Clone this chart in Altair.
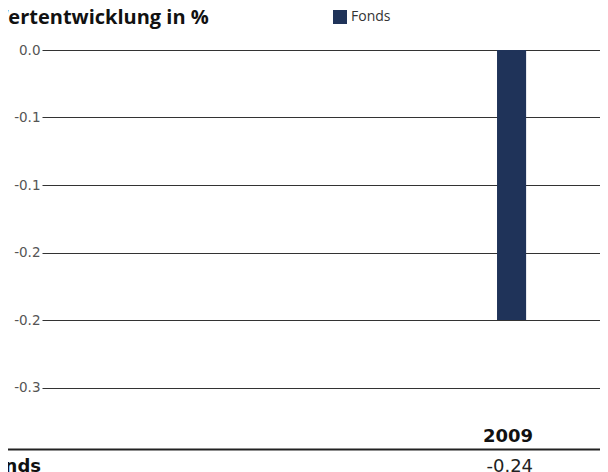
import altair as alt
import pandas as pd

# ---- data ----
years = ["2009"]
fonds = [-0.24]
series_name = "Fonds"
y_ticks = [0.0, -0.06, -0.12, -0.18, -0.24, -0.30]
title_text = "Wertentwicklung in %"

df = pd.DataFrame({"Jahr": years, "Wert": fonds, "Serie": [series_name] * len(years)})

FONT = "Open Sans"
TFONT = "DejaVu Sans"
W, H = 558, 337.5

x_enc = alt.X(
    "Jahr:N",
    scale=alt.Scale(domain=years, paddingInner=0.89, paddingOuter=1, align=0.8603),
    axis=alt.Axis(
        title=None, labelAngle=0, domain=False, ticks=False, tickSize=0, grid=False,
        labelPadding=39.5, labelFontWeight="bold", labelFontSize=18, labelColor="#111",
        labelFont=TFONT, labelAlign="right", labelOffset=21.5,
    ),
)

bars = alt.Chart(df).mark_bar().encode(
    x=x_enc,
    y=alt.Y(
        "Wert:Q",
        scale=alt.Scale(domain=[-0.3, 0], nice=False),
        axis=alt.Axis(
            values=y_ticks, format=".1f", title=None, grid=True, gridColor="#333",
            gridWidth=1, domain=False, ticks=False, labelPadding=2, labelFontSize=13.5,
            labelColor="#555", labelFont=TFONT,
            labelExpr="replace(datum.label, '\u2212', '-')",
        ),
    ),
    color=alt.Color(
        "Serie:N",
        scale=alt.Scale(domain=[series_name], range=["#1f3359"]),
        legend=alt.Legend(
            title=None, orient="none", legendX=291, legendY=-40, symbolType="square",
            symbolSize=196, symbolStrokeWidth=0, labelFont=FONT, labelFontSize=14,
            labelColor="#333", labelOffset=4, padding=0,
        ),
    ),
)

rule = alt.Chart(df).mark_rule(color="#222", strokeWidth=2.2).encode(
    x=alt.value(-42), x2=alt.value(W), y=alt.value(399.5)
)

row_label = alt.Chart(df).mark_text(
    font=TFONT, fontSize=18, fontWeight="bold", color="#111", align="right", baseline="alphabetic"
).encode(x=alt.value(-1), y=alt.value(422), text=alt.Text("Serie:N"))

val_text = alt.Chart(df).transform_calculate(
    label="replace(format(datum.Wert, '.2f'), '\u2212', '-')"
).mark_text(
    font=TFONT, fontSize=18, color="#222", baseline="alphabetic", align="right", dx=21.5
).encode(x=alt.X("Jahr:N"), y=alt.value(422), text=alt.Text("label:N"))

chart = alt.layer(bars, rule, row_label, val_text).properties(
    width=W,
    height=H,
    padding={"left": 34, "top": 42, "right": 0, "bottom": 84.5},
    autosize=alt.AutoSizeParams(type="none"),
    title=alt.TitleParams(
        text=title_text, anchor="start", frame="group", font=FONT, fontSize=20,
        fontWeight="bold", color="#111", dx=-53, dy=28, offset=10,
    ),
).configure_view(stroke=None)

chart.save("out.html", embed_options={"renderer": "svg", "actions": False})
